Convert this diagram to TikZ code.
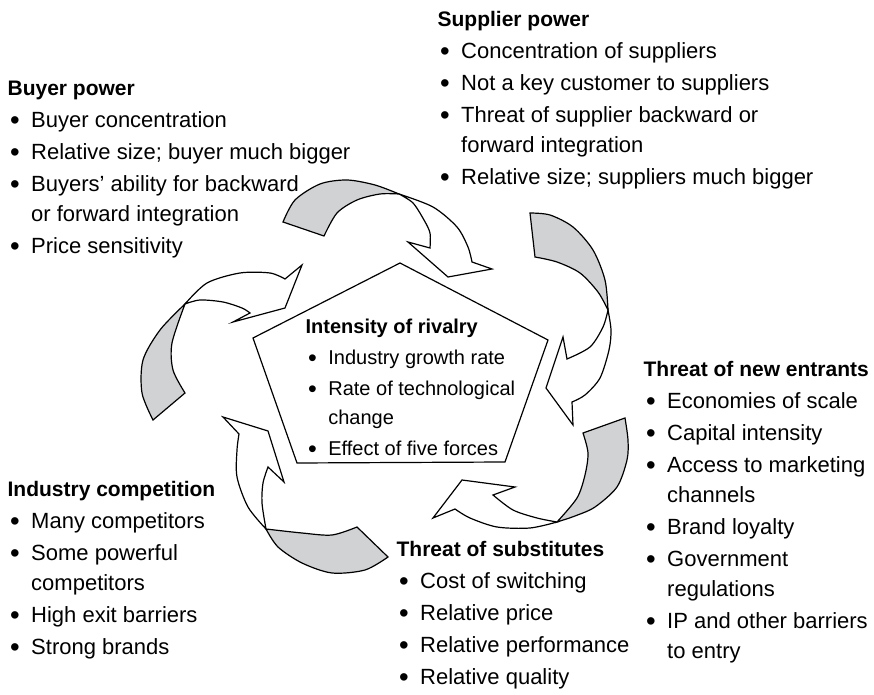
\documentclass[tikz,border=0pt]{standalone}
\usepackage{fontspec}
\setmainfont{Liberation Sans}
\definecolor{ribbongray}{RGB}{209,210,212}
\newcommand{\blt}{\raisebox{-0.08em}{\scalebox{1.25}{\textbullet}}}
\newcommand{\blist}[3][10.5]{\begin{tabular}[t]{@{\hspace{1.2pt}}l@{\hspace{5.8pt}}l@{}}\multicolumn{2}{@{}l@{}}{\fontsize{#1}{12}\selectfont\bfseries #2}\\[1pt]#3\end{tabular}}
\begin{document}
\begin{tikzpicture}[x=0.5pt,y=-0.5pt,line width=0.6pt,font=\fontsize{11}{15}\selectfont,
  blk/.style={anchor=base west,inner sep=0pt},
  back/.style={fill=ribbongray,draw=black},
  front/.style={fill=white,draw=black}]
\useasboundingbox (0,0) rectangle (874,695);
% centre
\draw (400,263) -- (548,340) -- (505,462) -- (297,463) -- (253,338) -- cycle;
\node[blk,font=\fontsize{10}{14.5}\selectfont] (rivalry) at (305,334) {\blist[10]{Intensity of rivalry}{%
  \blt & Industry growth rate\\[1pt]
  \blt & Rate of technological\\
       & change\\[1pt]
  \blt & Effect of five forces}};
% forces
\node[blk] (supplier) at (437,27) {\blist{Supplier power}{%
  \blt & Concentration of suppliers\\[1pt]
  \blt & Not a key customer to suppliers\\[1pt]
  \blt & Threat of supplier backward or\\
       & forward integration\\[1pt]
  \blt & Relative size; suppliers much bigger}};
\node[blk] (buyer) at (7,96) {\blist{Buyer power}{%
  \blt & Buyer concentration\\[1pt]
  \blt & Relative size; buyer much bigger\\[1pt]
  \blt & Buyers’ ability for backward\\
       & or forward integration\\[1pt]
  \blt & Price sensitivity}};
\node[blk] (entrants) at (643,377) {\blist{Threat of new entrants}{%
  \blt & Economies of scale\\[1pt]
  \blt & Capital intensity\\[1pt]
  \blt & Access to marketing\\
       & channels\\[1pt]
  \blt & Brand loyalty\\[1pt]
  \blt & Government\\
       & regulations\\[1pt]
  \blt & IP and other barriers\\
       & to entry}};
\node[blk] (industry) at (7,497) {\blist{Industry competition}{%
  \blt & Many competitors\\[1pt]
  \blt & Some powerful\\
       & competitors\\[1pt]
  \blt & High exit barriers\\[1pt]
  \blt & Strong brands}};
\node[blk] (substitutes) at (396,557) {\blist{Threat of substitutes}{%
  \blt & Cost of switching\\[1pt]
  \blt & Relative price\\[1pt]
  \blt & Relative performance\\[1pt]
  \blt & Relative quality}};
% ribbons
\filldraw[back] (283,222) -- (324,236) -- plot[smooth] coordinates {(324,236)(337,213)(357,200)(380,194)(399,194)}
  -- plot[smooth] coordinates {(399,194)(375,185)(347,180)(320,184)(295,200)(283,222)} -- cycle;
\filldraw[front] (399,194) -- plot[smooth] coordinates {(399,194)(433,207)(457,227)(468,247)(472,262)}
  -- (492,269) -- (448,277) -- (408,242) -- plot[smooth] coordinates {(430,248)(430,233)(424,220)(413,203)(399,194)} -- cycle;
\filldraw[back] (530,213) -- (535,257) -- plot[smooth] coordinates {(535,257)(557,262)(580,273)(598,292)(608,310)}
  -- plot[smooth] coordinates {(608,310)(605,280)(593,250)(573,227)(550,215)(530,213)} -- cycle;
\filldraw[front] (608,310) -- plot[smooth] coordinates {(608,310)(611,330)(609,350)(600,378)(585,395)(572,402)}
  -- (573,425) -- (546,388) -- (563,337) -- plot[smooth] coordinates {(567,359)(590,347)(603,327)(608,310)} -- cycle;
\filldraw[back] (583,433) -- (625,418) -- plot[smooth] coordinates {(625,418)(628,440)(627,460)(617,487)(595,507)(575,516)(557,522)}
  -- plot[smooth] coordinates {(557,522)(577,498)(585,475)(588,453)(583,433)} -- cycle;
\filldraw[front] (557,522) -- plot[smooth] coordinates {(557,522)(530,528)(497,527)(470,518)(455,509)}
  -- (433,518) -- (462,480) -- (515,487) -- plot[smooth] coordinates {(493,495)(513,510)(537,518)(557,522)} -- cycle;
\filldraw[back] (357,527) -- (388,557) -- plot[smooth] coordinates {(388,557)(365,570)(332,573)(302,563)(278,547)(266,529)}
  -- plot[smooth] coordinates {(266,529)(302,533)(332,535)(357,527)} -- cycle;
\filldraw[front] (266,529) -- plot[smooth] coordinates {(266,529)(248,507)(237,477)(237,450)(239,434)}
  -- (223,417) -- (268,431) -- (284,482) -- plot[smooth] coordinates {(268,467)(263,483)(262,503)(266,529)} -- cycle;
\filldraw[back] (153,420) -- (185,393) -- plot[smooth] coordinates {(185,393)(173,370)(172,343)(185,304)}
  -- plot[smooth] coordinates {(185,304)(160,330)(143,360)(142,393)(153,420)} -- cycle;
\filldraw[front] (185,304) -- plot[smooth] coordinates {(185,304)(207,283)(240,273)(270,273)(285,279)}
  -- (302,265) -- (285,308) -- (233,322) -- plot[smooth] coordinates {(250,313)(242,308)(223,302)(200,300)(185,304)} -- cycle;
\end{tikzpicture}
\end{document}
